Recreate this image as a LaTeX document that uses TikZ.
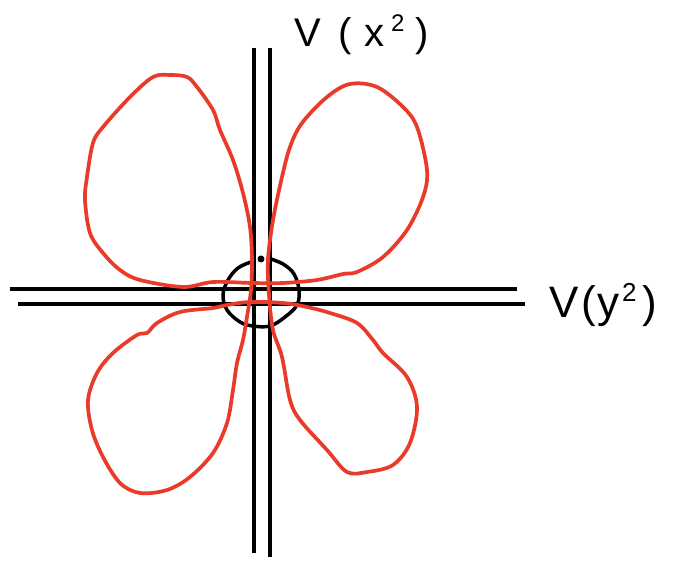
\documentclass[tikz,border=0pt]{standalone}
\usepackage{fontspec}
\setmainfont{Liberation Sans}
\definecolor{petal}{RGB}{234,58,42}
\begin{document}
\begin{tikzpicture}[x=1pt,y=-1pt,
  axis/.style={line width=3.9pt,black},
  flower/.style={line width=3.7pt,petal,line join=round},
  ring/.style={line width=3.5pt,black,line cap=round},
  lab/.style={font=\fontsize{40}{42}\selectfont,inner sep=0pt}]
\useasboundingbox (0,0) rectangle (673,561);
% axes
\coordinate (v1t) at (254,48); \coordinate (v1b) at (254,553);
\coordinate (v2t) at (270,48); \coordinate (v2b) at (270,557);
\coordinate (h1l) at (10,289); \coordinate (h1r) at (517,289);
\coordinate (h2l) at (18,304); \coordinate (h2r) at (525,304);
\draw[axis] (v1t) -- (v1b);
\draw[axis] (v2t) -- (v2b);
\draw[axis] (h1l) -- (h1r);
\draw[axis] (h2l) -- (h2r);
% small circle
\draw[ring] plot[smooth,tension=0.6] coordinates {(251,262) (238,268) (228,280) (223,295) (227,310) (240,322) (253,326) (270,326) (285,317) (297,305) (299,290) (294,274) (283,264) (268,258)};
\fill (261,259) circle (3.5pt);
% red flower
\draw[flower] plot[smooth cycle,tension=0.55] coordinates {
(252,283) (283,283) (317,280) (343,274) (357,272) (383,257) (407,230) (423,197) (427,170) (417,127) (403,107) (377,87) (350,84) (327,97) (302,123) (290,147) (282,177) (273,220) (268,260) (269,295) (273,330) (282,357) (290,400) (300,420) (327,450) (347,472) (367,472) (393,465) (410,443) (417,407) (407,377) (383,353) (373,340) (357,323) (330,313) (307,307) (283,303) (250,302) (227,305) (213,308) (180,312) (157,323) (147,333) (137,335) (113,353) (97,373) (88,400) (92,430) (103,457) (120,483) (140,493) (167,490) (190,477) (213,453) (227,423) (233,390) (237,363) (243,340) (247,317) (251,290) (252,260) (250,227) (243,193) (233,160) (220,130) (213,110) (197,87) (187,77) (170,75) (153,77) (130,97) (103,127) (93,143) (87,177) (85,200) (90,233) (103,253) (120,270) (140,280) (183,287) (213,282)};
% labels
\node[lab,anchor=base west] (lx) at (294,47) {V\kern18pt(\kern12pt x\kern7pt\raisebox{15pt}{\fontsize{24}{24}\selectfont 2}\kern11pt)};
\node[lab,anchor=base west] (ly) at (549,318) {\fontsize{44}{46}\selectfont V\kern3pt(\kern1pt y\kern3pt\raisebox{16pt}{\fontsize{26}{26}\selectfont 2}\kern6pt)};
\end{tikzpicture}
\end{document}
